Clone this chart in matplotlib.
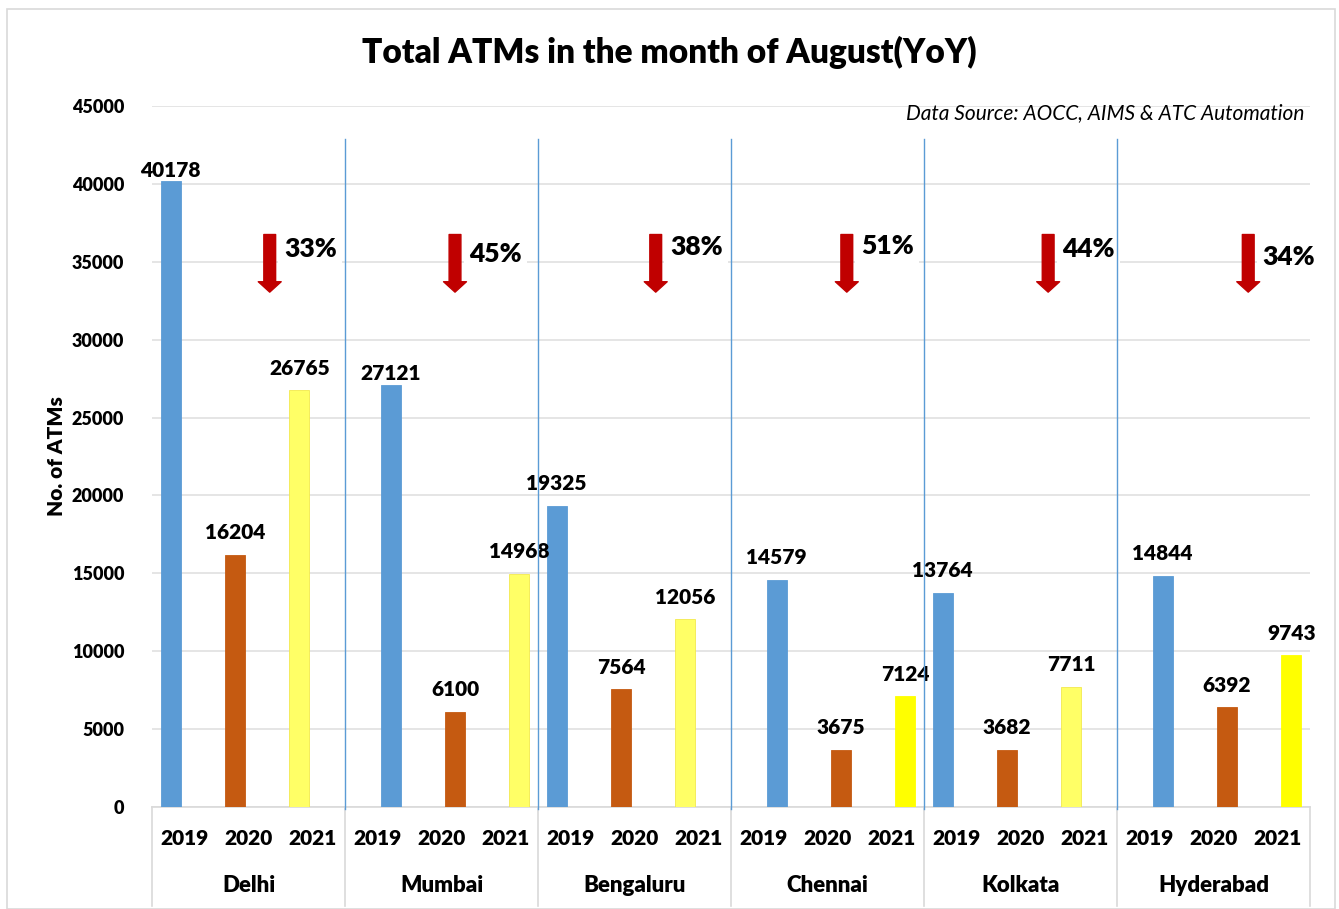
import matplotlib.pyplot as plt
import numpy as np
from matplotlib.patches import Rectangle

# Chart data.
cities = ["Delhi", "Mumbai", "Bengaluru", "Chennai", "Kolkata", "Hyderabad"]
years = ["2019", "2020", "2021"]
atms_2019 = [40178, 27121, 19325, 14579, 13764, 14844]
atms_2020 = [16204, 6100, 7564, 3675, 3682, 6392]
atms_2021 = [26765, 14968, 12056, 7124, 7711, 9743]
drop_labels = ["33%", "45%", "38%", "51%", "44%", "34%"]
yticks = [0, 5000, 10000, 15000, 20000, 25000, 30000, 35000, 40000, 45000]

# Colours.
blue = "#5B9BD5"
orange = "#C55A11"
yellow_light = "#FFFF66"
yellow = "#FFFF00"
yellow_2021 = [yellow_light, yellow_light, yellow_light, yellow, yellow_light, yellow]
grid_color = "#E3E3E3"
heavy = "heavy"

plt.rcParams["font.family"] = ["Lato", "DejaVu Sans"]

fig = plt.figure(figsize=(13.39, 9.09), dpi=100)
ax = fig.add_axes([152 / 1339, 1 - 807 / 909, 1158 / 1339, 701 / 909])

# Outer chart border.
fig.patches.append(Rectangle((7 / 1339, 0), 1 - 11 / 1339, 1 - 9 / 909,
	transform=fig.transFigure, fill=False, edgecolor="#D9D9D9",
	linewidth=1.2))

# Bars: each group is 3 slots wide, groups alternate a small shift.
bar_width = 0.31
for i, city in enumerate(cities):
	shift = -0.21 if i % 2 == 0 else 0.21
	xs = i * 3 + np.arange(3) + 0.5 + shift
	vals = [atms_2019[i], atms_2020[i], atms_2021[i]]
	cols = [blue, orange, yellow_2021[i]]
	for j, (x, v, c) in enumerate(zip(xs, vals, cols)):
		ax.bar(x, v, width=bar_width, color=c, zorder=3,
			edgecolor=c if c != yellow_light else "#F2E94E", linewidth=0.6)
		# The two tallest labels sit closer to their bars.
		dy = 1 if (j == 0 and i < 2) else 9
		ax.annotate(f"{v}", (x, v), xytext=(0, dy), textcoords="offset points",
			ha="center", va="bottom", fontsize=15, fontweight=heavy,
			zorder=5)

# Drop arrows and percentage labels.
arrow_dx = [1.83, 1.71, 1.83, 1.80, 1.93, 2.04]
label_y = [35800, 35500, 35950, 36000, 35800, 35300]
for i, lab in enumerate(drop_labels):
	x = i * 3 + arrow_dx[i]
	ax.annotate("", xy=(x, 33050), xytext=(x, 36750),
		arrowprops=dict(arrowstyle="simple,head_width=1.65,head_length=0.75,"
			"tail_width=0.85", mutation_scale=10, color="#C00000",
			shrinkA=0, shrinkB=0), zorder=6)
	ax.text(x + 0.22, label_y[i], lab, ha="left", va="center", fontsize=19,
		fontweight=heavy, zorder=5,
		bbox=dict(facecolor="white", edgecolor="none", pad=4))

# Blue dividers between cities.
for i in range(1, len(cities)):
	ax.plot([i * 3, i * 3], [-150, 42900], color=blue, linewidth=1,
		zorder=7, clip_on=False)

# Axes styling.
ax.set_xlim(0, 18)
ax.set_ylim(0, 45000)
ax.set_yticks(yticks)
ax.set_yticklabels([str(t) for t in yticks], fontsize=13, fontweight=heavy)
ax.tick_params(axis="y", length=0, pad=20)
ax.grid(axis="y", color=grid_color, linewidth=1.3, zorder=0)
for side in ["top", "right", "left"]:
	ax.spines[side].set_visible(False)
ax.spines["bottom"].set_color("#D9D9D9")
ax.spines["bottom"].set_linewidth(1.2)
ax.set_xticks([])

# Two-level category axis.
for i, city in enumerate(cities):
	for j, yr in enumerate(years):
		ax.text(i * 3 + j + 0.5, -2000, yr, ha="center", va="center",
			fontsize=15, fontweight=heavy)
	ax.text(i * 3 + 1.5, -5050, city, ha="center", va="center", fontsize=16,
		fontweight=heavy)
for i in range(len(cities) + 1):
	ax.plot([i * 3, i * 3], [0, -6350], color="#D9D9D9", linewidth=1.2,
		clip_on=False, zorder=2)

ax.set_ylabel("No. of ATMs", fontsize=15, fontweight=heavy, labelpad=4)

fig.text(0.5, 1 - 52 / 909, "Total ATMs in the month of August(YoY)",
	ha="center", va="center", fontsize=24, fontweight=heavy)
fig.text(1305 / 1339, 1 - 113 / 909, "Data Source: AOCC, AIMS & ATC Automation",
	ha="right", va="center", fontsize=15, fontstyle="italic")

fig.savefig("out.png", dpi=100)
plt.close("all")
